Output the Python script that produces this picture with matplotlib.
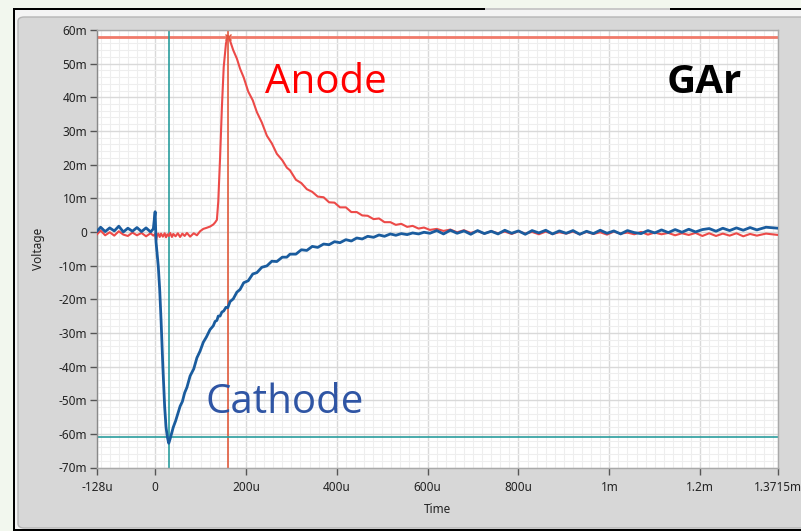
import matplotlib.pyplot as plt
from matplotlib.patches import Rectangle, FancyBboxPatch
from matplotlib.ticker import FixedLocator, MultipleLocator

# --- dados (tempo em us, tensão em mV) ---
tempo_us = [
    -128, -120, -110, -100, -90, -80, -70, -60, -50, -40,
    -30, -20, -10, -4, 0, 2, 4, 7, 10, 13,
    17, 21, 24, 27, 30, 33, 37, 40, 45, 50,
    55, 60, 65, 70, 77, 85, 92, 99, 106, 113,
    121, 128, 132, 136, 139, 143, 147, 151, 156, 160,
    165, 172, 180, 187, 195, 205, 215, 224, 235, 246,
    257, 268, 280, 290, 297, 310, 322, 334, 346, 358,
    371, 383, 395, 407, 420, 432, 444, 456, 468, 481,
    493, 505, 518, 530, 542, 555, 567, 580, 592, 605,
    620, 635, 650, 665, 680, 695, 710, 725, 740, 755,
    770, 785, 800, 815, 830, 845, 860, 875, 890, 905,
    920, 935, 950, 965, 980, 995, 1010, 1025, 1040, 1055,
    1070, 1085, 1100, 1115, 1130, 1145, 1160, 1175, 1190, 1205,
    1220, 1235, 1250, 1265, 1280, 1295, 1310, 1325, 1345, 1371.5,
]

anodo_mv = [
    -0.7, 0.4, -1.0, -0.1, -1.1, 0.2, -0.8, -1.2, -0.2, -1.0,
    -0.3, -1.3, -0.4, -1.1, -0.6, -2.5, -1.2, -0.5, -1.5, -0.5,
    -1.4, -0.4, -1.6, -0.7, -1.2, -0.3, -1.5, -0.6, -1.3, -0.4,
    -1.5, -0.5, -1.2, -0.3, -1.4, -0.4, -1.0, 0.2, 0.9, 1.2,
    1.6, 2.2, 2.8, 3.6, 9.0, 22.0, 37.0, 49.0, 56.0, 58.3,
    56.8, 54.0, 51.5, 48.5, 45.9, 41.7, 39.1, 35.6, 32.5, 28.6,
    26.3, 23.2, 21.3, 19.1, 18.3, 15.5, 14.5, 12.7, 11.9, 10.5,
    10.3, 8.8, 8.7, 7.3, 7.3, 5.9, 5.9, 4.9, 4.8, 3.8,
    4.0, 2.9, 2.9, 2.1, 2.4, 1.5, 1.8, 1.0, 1.3, 0.6,
    0.9, 0.3, 0.7, -0.1, 0.5, -0.3, 0.3, -0.5, 0.2, -0.4,
    0.1, -0.6, 0.2, -0.5, 0.0, -0.7, 0.1, -0.6, -0.1, -0.5,
    0.1, -0.7, 0.0, -0.6, -0.1, -0.8, 0.1, -0.5, -0.2, -0.7,
    0.0, -0.8, -0.2, -0.7, -0.3, -1.0, -0.4, -0.9, -0.3, -1.2,
    -0.4, -1.2, -0.5, -1.1, -0.4, -1.3, -0.6, -1.1, -0.5, -0.9,
]

catodo_mv = [
    0.2, 1.4, 0.1, 1.2, 0.3, 1.7, 0.0, 1.1, 0.2, 1.3,
    0.1, 1.2, 0.0, 0.9, 6.0, -3.0, -6.0, -10.3, -17.0, -26.0,
    -40.0, -52.0, -58.0, -61.0, -62.8, -61.5, -59.5, -58.0, -56.2, -54.0,
    -51.8, -50.4, -47.8, -46.2, -42.8, -40.7, -37.4, -35.4, -32.8, -31.2,
    -29.0, -27.9, -26.6, -26.3, -25.0, -25.0, -23.8, -23.5, -22.4, -22.5,
    -20.7, -19.9, -17.9, -17.1, -15.1, -14.5, -12.5, -12.1, -10.5, -10.1,
    -8.7, -8.8, -7.5, -7.5, -6.6, -6.6, -5.3, -5.5, -4.3, -4.6,
    -3.6, -3.8, -2.9, -3.2, -2.3, -2.7, -1.8, -2.1, -1.3, -1.6,
    -0.9, -1.3, -0.6, -1.0, -0.5, -0.8, -0.3, -0.6, -0.1, -0.4,
    0.4, -0.6, 0.5, -0.4, 0.3, -0.7, 0.4, -0.5, 0.2, -0.6,
    0.5, -0.4, 0.3, -0.7, 0.4, -0.3, 0.5, -0.6, 0.3, -0.4,
    0.4, -0.7, 0.2, -0.5, 0.5, -0.4, 0.3, -0.6, 0.4, -0.2,
    -0.5, 0.4, -0.3, 0.6, -0.2, 0.7, -0.1, 0.8, 0.0, 0.7,
    1.0, 0.2, 1.1, 0.4, 1.2, 0.5, 1.3, 0.6, 1.4, 1.1,
]

# cursores (tempo us, tensão mV)
cursor_anodo = (160, 58.0)
cursor_catodo = (31.5, -61.0)

x_ticks = [-128, 0, 200, 400, 600, 800, 1000, 1200, 1371.5]
x_labels = ['-128u', '0', '200u', '400u', '600u', '800u', '1m', '1.2m', '1.3715m']
y_ticks = [60, 50, 40, 30, 20, 10, 0, -10, -20, -30, -40, -50, -60, -70]
y_labels = ['60m', '50m', '40m', '30m', '20m', '10m', '0', '-10m', '-20m',
            '-30m', '-40m', '-50m', '-60m', '-70m']

W, H = 801, 531

fig = plt.figure(figsize=(W / 100, H / 100), dpi=100)
fig.patch.set_facecolor('#f2f7ee')


def px(x, y):
    # converte pixel (topo-esquerda) para coordenadas da figura
    return x / W, 1 - y / H


# moldura preta + painel cinza (estilo LabVIEW)
fig.add_artist(Rectangle(px(13, H), 1, (H - 8) / H, transform=fig.transFigure,
                         facecolor='black', edgecolor='none', zorder=0))
fig.add_artist(Rectangle(px(485, 14), (670 - 485) / W, 6 / H, transform=fig.transFigure,
                         facecolor='#c9c9c9', edgecolor='none', zorder=0.5))
fig.add_artist(Rectangle(px(670, H), 1, (H - 14) / H, transform=fig.transFigure,
                         facecolor='black', edgecolor='none', zorder=0.4))
fig.add_artist(Rectangle(px(15, 529), 1, (529 - 10) / H, transform=fig.transFigure,
                         facecolor='#f4f4f4', edgecolor='none', zorder=0.6))
fig.add_artist(FancyBboxPatch(px(18, 528), (W + 20 - 18) / W, (528 - 17) / H,
                              boxstyle='round,pad=0,rounding_size=0.008',
                              transform=fig.transFigure, facecolor='#d7d7d7',
                              edgecolor='#b5b5b5', linewidth=1, zorder=0.7))

x0, y0 = px(97, 467.5)
ax = fig.add_axes([x0, y0, (778 - 97) / W, (467.5 - 30) / H])
ax.set_facecolor('white')
ax.set_zorder(1)

ax.set_xlim(-128, 1371.5)
ax.set_ylim(-70, 60)

ax.xaxis.set_major_locator(FixedLocator(x_ticks))
ax.set_xticklabels(x_labels)
ax.xaxis.set_minor_locator(MultipleLocator(20))
ax.yaxis.set_major_locator(FixedLocator(y_ticks))
ax.set_yticklabels(y_labels)
ax.yaxis.set_minor_locator(MultipleLocator(2))

ax.grid(which='minor', color='#eeeeee', linewidth=0.8)
ax.grid(which='major', color='#d9d9d9', linewidth=1.0)
ax.set_axisbelow(True)

for s in ax.spines.values():
    s.set_color('#a9a9a9')
    s.set_linewidth(1)
ax.spines['left'].set_color('#8a8a8a')

ax.tick_params(which='minor', length=0)
ax.tick_params(which='major', direction='out', length=5, width=1, color='#555555',
               labelsize=8.5, labelcolor='#222222')
ax.tick_params(axis='x', pad=5)
ax.tick_params(axis='y', pad=2)
for lab in ax.get_xticklabels() + ax.get_yticklabels():
    lab.set_family('Noto Sans')

ax.set_xlabel('Time', fontsize=8.5, family='Noto Sans', color='#222222', labelpad=6)
ax.set_ylabel('Voltage', fontsize=8.5, family='Noto Sans', color='#222222', labelpad=10)

# cursores
ax.axhline(cursor_anodo[1], color='#f07a6a', linewidth=2, zorder=2)
ax.axvline(cursor_anodo[0], color='#e05a3c', linewidth=1.2, zorder=2)
ax.axhline(cursor_catodo[1], color='#2a9d9d', linewidth=1.2, zorder=2)
ax.axvline(cursor_catodo[0], color='#2a9d9d', linewidth=1.2, zorder=2)

# sinais
ax.plot(tempo_us, anodo_mv, color='#ec4a48', linewidth=1.5, zorder=3)
ax.plot(tempo_us, catodo_mv, color='#1a5c9e', linewidth=2.0, zorder=4)
ax.plot(*cursor_anodo, marker='x', color='#e05a3c', markersize=5, zorder=5)

# anotações
ax.text(0.247, 0.856, 'Anode', transform=ax.transAxes, color='#ff0000',
        fontsize=29, family='Open Sans', va='baseline', ha='left', zorder=6)
ax.text(0.159, 0.125, 'Cathode', transform=ax.transAxes, color='#2f55a4',
        fontsize=29, family='Open Sans', va='baseline', ha='left', zorder=6)
ax.text(0.837, 0.856, 'GAr', transform=ax.transAxes, color='black',
        fontsize=29, family='Open Sans', fontweight='bold', va='baseline', ha='left', zorder=6)

fig.savefig('out.png', dpi=100)
